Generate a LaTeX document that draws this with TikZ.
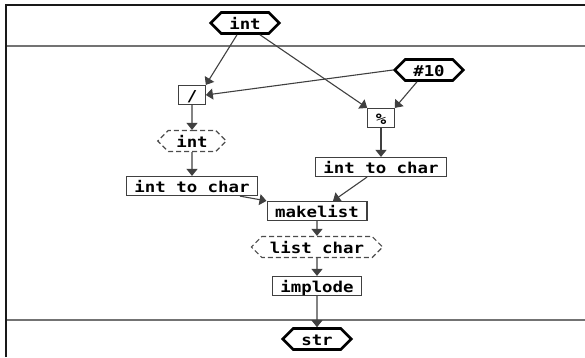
\documentclass[tikz,border=0pt]{standalone}
\usepackage{fontspec}
\setmonofont[FakeStretch=1.16]{DejaVu Sans Mono}
\usetikzlibrary{arrows.meta,shapes.symbols}

\begin{document}
\begin{tikzpicture}[x=1pt,y=-1pt,
    font=\ttfamily\bfseries\fontsize{15}{16}\selectfont,
    opbox/.style={draw=black!75, line width=1.2pt, inner xsep=8pt, inner ysep=0pt,
        text height=14pt, text depth=1pt, minimum height=19pt},
    porthex/.style={signal, signal to=east and west, draw=black, line width=2.6pt,
        inner xsep=8pt, inner ysep=0pt, text height=14pt, text depth=1pt, minimum height=21pt},
    typehex/.style={porthex, draw=black!70, line width=1.2pt, dash pattern=on 5pt off 3pt},
    flow/.style={draw=black!75, line width=1.1pt, -{Triangle[length=7pt,width=11pt]}}]
\useasboundingbox (0,0) rectangle (585,357);
% frame and separators
\draw[black!55, line width=2pt] (6,46) -- (585,46);
\draw[black!55, line width=2pt] (6,320) -- (585,320);
\draw[black!90, line width=2.4pt] (6,357) -- (6,5) -- (585,5);
% nodes
\node[porthex] (in) at (245,23) {int};
\node[porthex] (ten) at (429,70) {\#10};
\node[opbox] (div) at (192,95) {/};
\node[opbox] (mod) at (381,118) {\%};
\node[typehex] (quot) at (192,141) {int};
\node[opbox] (chl) at (192,186) {int to char};
\node[opbox] (chr) at (381,167) {int to char};
\node[opbox] (mk) at (317,211) {makelist};
\node[typehex] (lst) at (317,247) {list char};
\node[opbox] (imp) at (317,286) {implode};
\node[porthex] (out) at (317,339) {str};
% wires
\draw[flow] ([xshift=-8pt]in.south) -- (div.north east);
\draw[flow] ([xshift=15pt]in.south) -- (mod.north west);
\draw[flow] (ten.west) -- (div.east);
\draw[flow] ([xshift=-12pt]ten.south) -- (mod.north east);
\draw[flow] (div) -- (quot);
\draw[flow] (quot) -- (chl);
\draw[flow] (mod) -- (chr);
\draw[flow] ([xshift=48pt]chl.south) -- (mk.north west);
\draw[flow] ([xshift=-14pt]chr.south) -- ([xshift=16pt]mk.north);
\draw[flow] (mk) -- (lst);
\draw[flow] (lst) -- (imp);
\draw[flow] (imp) -- (out);
\end{tikzpicture}
\end{document}
